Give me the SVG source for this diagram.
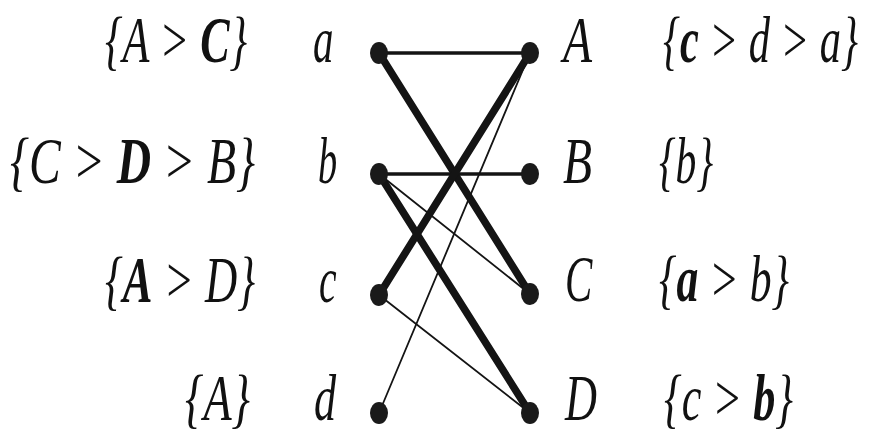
<svg xmlns="http://www.w3.org/2000/svg" width="876" height="441" viewBox="0 0 876 441">
<style>
.t{font-family:"Liberation Serif","DejaVu Serif",serif;font-style:italic;font-size:66px;fill:#111}
.b{font-weight:bold}
.n{fill:#1a1a1a}
.e{stroke:#141414;stroke-linecap:round;fill:none}
.thick{stroke-width:7.5}
.med{stroke-width:3.5}
.thin{stroke-width:1.8}
</style>
<rect width="876" height="441" fill="#fff"/>
<g id="connectors">
<line class="e med" x1="379" y1="53" x2="530" y2="53"/>
<line class="e thick" x1="379" y1="53" x2="530" y2="294"/>
<line class="e med" x1="379" y1="174" x2="530" y2="174"/>
<line class="e thin" x1="379" y1="174" x2="530" y2="294"/>
<line class="e thick" x1="379" y1="174" x2="530" y2="413"/>
<line class="e thick" x1="379" y1="295" x2="530" y2="53"/>
<line class="e thin" x1="379" y1="295" x2="530" y2="413"/>
<line class="e thin" x1="379" y1="413" x2="530" y2="53"/>
</g>
<g id="node-a">
<ellipse class="n" cx="379" cy="53" rx="9" ry="11"/>
<text class="t" transform="translate(313,62) scale(0.62,1)">a</text>
<text class="t" transform="translate(105,62) scale(0.666,1)">{A &gt; <tspan class="b">C</tspan>}</text>
</g>
<g id="node-b">
<ellipse class="n" cx="379" cy="174" rx="9" ry="11"/>
<text class="t" transform="translate(318,183) scale(0.58,1)">b</text>
<text class="t" transform="translate(10,183) scale(0.721,1)">{C &gt; <tspan class="b">D</tspan> &gt; B}</text>
</g>
<g id="node-c">
<ellipse class="n" cx="379" cy="295" rx="9" ry="11"/>
<text class="t" transform="translate(319,302) scale(0.6,1)">c</text>
<text class="t" transform="translate(105,302) scale(0.676,1)">{<tspan class="b">A</tspan> &gt; D}</text>
</g>
<g id="node-d">
<ellipse class="n" cx="379" cy="413" rx="9" ry="11"/>
<text class="t" transform="translate(314,420) scale(0.67,1)">d</text>
<text class="t" transform="translate(185,420) scale(0.698,1)">{A}</text>
</g>
<g id="node-A">
<ellipse class="n" cx="530" cy="53" rx="9" ry="11"/>
<text class="t" transform="translate(563,62) scale(0.72,1)">A</text>
<text class="t" transform="translate(663,62) scale(0.643,1)">{<tspan class="b">c</tspan> &gt; d &gt; a}</text>
</g>
<g id="node-B">
<ellipse class="n" cx="530" cy="174" rx="9" ry="11"/>
<text class="t" transform="translate(563,183) scale(0.72,1)">B</text>
<text class="t" transform="translate(659,183) scale(0.63,1)">{b}</text>
</g>
<g id="node-C">
<ellipse class="n" cx="530" cy="294" rx="9" ry="11"/>
<text class="t" transform="translate(565,301) scale(0.62,1)">C</text>
<text class="t" transform="translate(659,301) scale(0.662,1)">{<tspan class="b">a</tspan> &gt; b}</text>
</g>
<g id="node-D">
<ellipse class="n" cx="530" cy="413" rx="9" ry="11"/>
<text class="t" transform="translate(565,420) scale(0.67,1)">D</text>
<text class="t" transform="translate(664,420) scale(0.67,1)">{c &gt; <tspan class="b">b</tspan>}</text>
</g>
</svg>
